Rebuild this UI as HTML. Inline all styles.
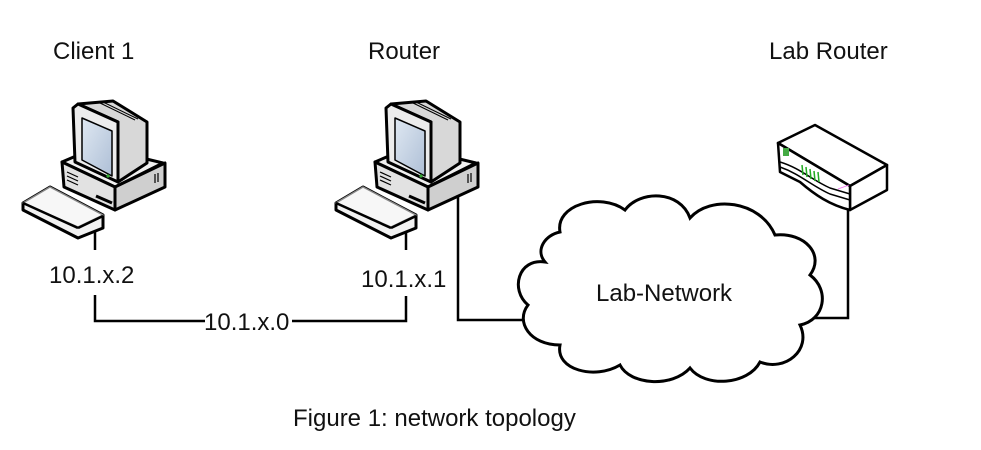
<!DOCTYPE html>
<html><head><meta charset="utf-8"><style>
html,body{margin:0;padding:0;background:#fff;}
svg{display:block;}
text{font-family:"Liberation Sans",sans-serif;fill:#111;}
</style></head><body>
<svg width="981" height="450" viewBox="0 0 981 450" xmlns="http://www.w3.org/2000/svg">
<defs>
<linearGradient id="scr" x1="0" y1="0" x2="1" y2="1"><stop offset="0" stop-color="#dfe8f2"/><stop offset="1" stop-color="#aebfd6"/></linearGradient>
<g id="pc" stroke="#000" stroke-linejoin="round">
  <polygon points="62,162 97,147 163,163 115,187" fill="#f0f0f0" stroke-width="3"/>
  <polygon points="62,162 115,187 115,210 64,187" fill="#e2e2e2" stroke-width="3"/>
  <polygon points="115,187 165,163 165,187 115,210" fill="#cfcfcf" stroke-width="3"/>
  <line x1="67" y1="172" x2="78" y2="177" stroke-width="1.2"/>
  <line x1="67" y1="176" x2="78" y2="181" stroke-width="1.2"/>
  <line x1="67" y1="180" x2="78" y2="185" stroke-width="1.2"/>
  <line x1="96" y1="196" x2="112" y2="203" stroke-width="3"/>
  <line x1="155" y1="174" x2="155" y2="183" stroke-width="1.2"/>
  <line x1="158" y1="173" x2="158" y2="182" stroke-width="1.2"/>
  <polygon points="78,104 113,101 147,122 147,163 118,182 118,122" fill="#d8d8d8" stroke-width="3"/>
  <polygon points="73,108 78,104 118,122 118,182 75,162" fill="#ececec" stroke-width="3"/>
  <polygon points="82,118 112,131 112,176 82,160" fill="url(#scr)" stroke-width="1.5"/>
  <line x1="100" y1="103" x2="135" y2="120" stroke-width="1" />
  <line x1="103" y1="102" x2="138" y2="119" stroke-width="1" />
  <circle cx="108" cy="176" r="1.6" fill="#3a3" stroke="none"/>
  <polygon points="23,203 50,187 103,215 103,228 78,238 23,210" fill="#f2f2f2" stroke-width="3"/>
  <polygon points="23,203 50,187 103,215 78,227" fill="#f7f7f7" stroke-width="1.5" stroke="#888"/>
  <line x1="23" y1="203" x2="78" y2="228" stroke-width="2.5"/>
  <line x1="78" y1="228" x2="103" y2="216" stroke-width="2.5"/>
</g>
</defs>

<text x="53" y="59" font-size="24">Client 1</text>
<text x="368" y="59" font-size="24">Router</text>
<text x="769" y="59" font-size="24">Lab Router</text>

<use href="#pc"/>
<use href="#pc" transform="translate(313,0)"/>

<g stroke="#000" stroke-width="2.5" fill="none">
  <line x1="95" y1="232" x2="95" y2="250"/>
  <polyline points="95,295 95,321 205,321"/>
  <polyline points="292,321 406,321 406,296"/>
  <line x1="406" y1="232" x2="406" y2="250"/>
  <polyline points="458,195 458,320 522,320"/>
  <polyline points="848,208 848,318 812,318"/>
</g>

<text x="49" y="283" font-size="24">10.1.x.2</text>
<text x="361" y="287" font-size="24">10.1.x.1</text>
<text x="204" y="330" font-size="24">10.1.x.0</text>

<path d="M560,232 C555,205 600,192 625,210 C640,190 680,190 690,218 C710,195 760,200 775,235 C805,232 825,255 810,275 C830,290 825,320 800,325 C812,350 785,372 760,362 C748,385 705,388 690,368 C672,388 630,385 620,365 C595,380 555,370 560,345 C530,345 515,322 528,305 C510,290 518,258 545,262 C535,250 545,235 560,232 Z" fill="#fff" stroke="#000" stroke-width="3"/>
<text x="596" y="301" font-size="24">Lab-Network</text>

<g stroke="#000" stroke-width="2.5" stroke-linejoin="round">
  <polygon points="778,143 815,125 887,165 850,186" fill="#fff"/>
  <polygon points="850,186 887,165 887,190 850,210" fill="#fff"/>
  <path d="M778,143 L850,186 L850,210 C830,205 815,195 800,182 L780,172 Z" fill="#fff"/>
  <path d="M780,162 C800,168 812,180 830,188 L850,194" fill="none" stroke-width="1.5"/>
  <path d="M780,167 C800,174 812,186 830,194 L850,200" fill="none" stroke-width="1.5"/>
  <rect x="783" y="148" width="6" height="8" fill="#4a4" stroke="none"/>
  <g stroke="#2a2" stroke-width="1.5">
    <line x1="802" y1="165" x2="803" y2="175"/><line x1="806" y1="167" x2="807" y2="177"/>
    <line x1="810" y1="169" x2="811" y2="179"/><line x1="814" y1="171" x2="815" y2="181"/>
    <line x1="818" y1="172" x2="819" y2="182"/>
  </g>
  <line x1="838" y1="189" x2="849" y2="185" stroke="#e6e" stroke-width="0.8"/>
</g>

<text x="293" y="426" font-size="24">Figure 1: network topology</text>
</svg>
</body></html>
